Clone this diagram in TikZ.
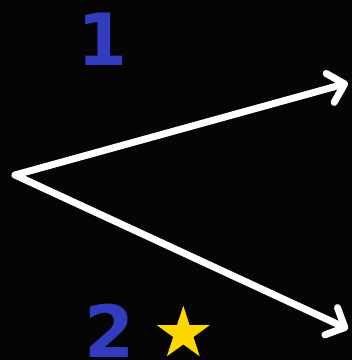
\documentclass[tikz,border=0pt]{standalone}
\usepackage{fontspec}
\setmainfont{DejaVu Sans}
\usetikzlibrary{arrows.meta,shapes.geometric}
\definecolor{bgblack}{RGB}{5,5,5}
\definecolor{numblue}{RGB}{50,60,190}
\definecolor{staryellow}{RGB}{255,215,0}

\begin{document}
\begin{tikzpicture}[x=1pt,y=-1pt,
  ray/.style={white, line width=7pt, line cap=round,
    -{Straight Barb[length=15pt, width=30pt, round]}},
  digit/.style={numblue, font=\fontsize{72}{72}\selectfont\bfseries,
    inner sep=0pt, anchor=base}]

\fill[bgblack] (0,0) rectangle (352,360);
\useasboundingbox (0,0) rectangle (352,360);

\coordinate (o) at (15,175);
\coordinate (up) at (348,83);
\coordinate (down) at (348,329);

\draw[ray] (o) -- (up);
\draw[ray] (o) -- (down);

\node[digit] (one) at (103,65.5) {1};
\node[digit] (two) at (110,357) {2};
\node[star, star points=5, star point ratio=2.618, fill=staryellow,
  minimum size=56pt, inner sep=0pt] (mark) at (183.3,333.7) {};

\end{tikzpicture}
\end{document}
